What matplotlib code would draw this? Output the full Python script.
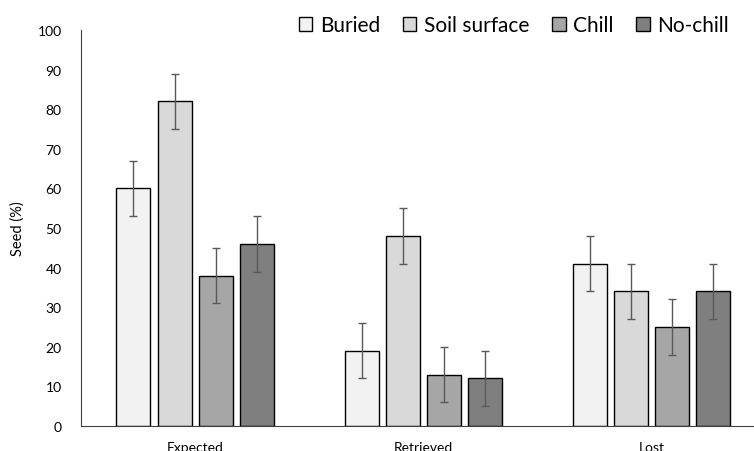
import numpy as np
import matplotlib.pyplot as plt

plt.rcParams['font.family'] = ['Lato', 'DejaVu Sans']

groups = ['Expected', 'Retrieved', 'Lost']
series = ['Buried', 'Soil surface', 'Chill', 'No-chill']
buried = [60, 19, 41]
soil_surface = [82, 48, 34]
chill = [38, 13, 25]
no_chill = [46, 12, 34]
errors = [7, 7, 7]
colors = ['#F2F2F2', '#D9D9D9', '#A6A6A6', '#7F7F7F']

fig = plt.figure(figsize=(7.54, 4.52), dpi=100)
ax = fig.add_axes([81 / 754, 1 - 427 / 452, 1 - 81 / 754, (427 - 31) / 452])

x = np.arange(len(groups))
width = 0.149
step = 0.18
for i, (name, vals) in enumerate(zip(series, [buried, soil_surface, chill, no_chill])):
    ax.bar(x + (i - 1.5) * step, vals, width, color=colors[i], edgecolor='black',
           linewidth=1, label=name, yerr=errors,
           error_kw=dict(ecolor='#595959', elinewidth=1, capsize=3, capthick=1))

ax.set_xlim(-0.5, 2.45)
ax.set_ylim(0, 100)
ax.set_yticks(range(0, 101, 10))
ax.set_xticks(x)
ax.set_xticklabels(groups, fontsize=10)
ax.tick_params(axis='y', length=0, labelsize=10, pad=14)
ax.tick_params(axis='x', length=0, pad=11)
ax.set_ylabel('Seed (%)', fontsize=10.5, labelpad=9)

for s in ['top', 'right']:
    ax.spines[s].set_visible(False)
ax.spines['left'].set_color('#404040')
ax.spines['bottom'].set_color('#404040')

leg = ax.legend(loc='upper right', bbox_to_anchor=(0.975, 1.058), ncol=4, frameon=False,
                fontsize=15, handlelength=0.65, handleheight=0.65, handletextpad=0.35,
                columnspacing=1.1, borderaxespad=0)

fig.savefig('out.png', dpi=100)
